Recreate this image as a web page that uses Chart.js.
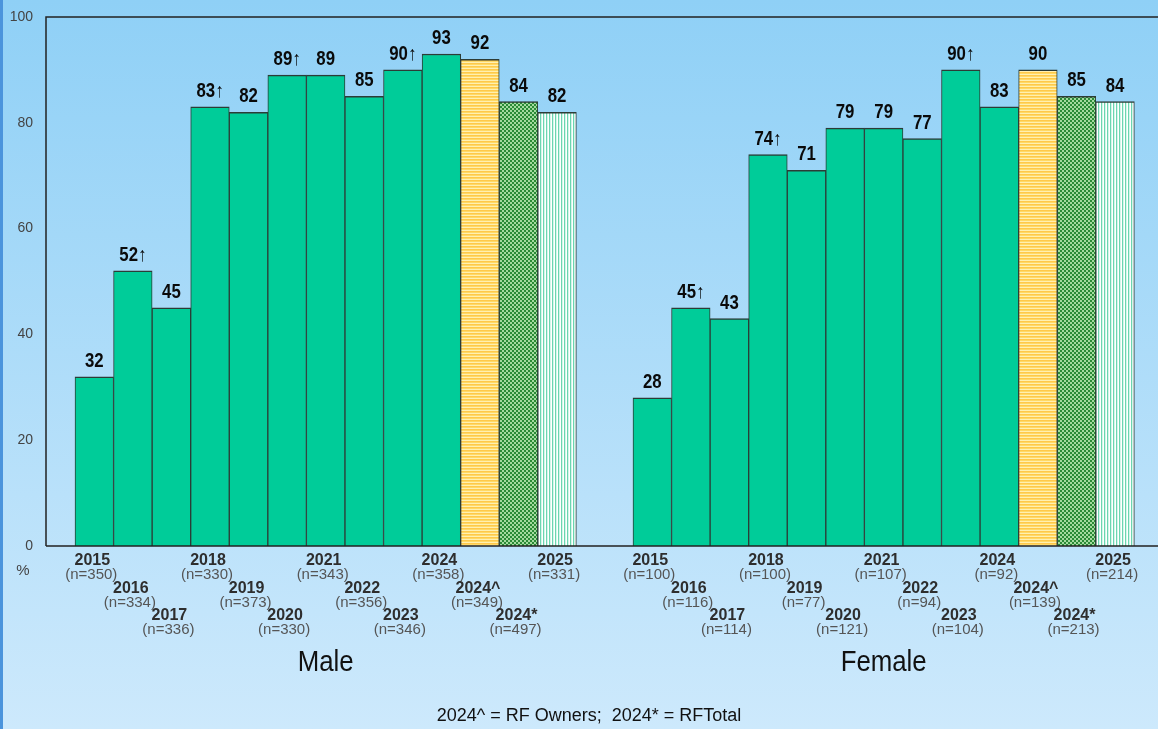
<!DOCTYPE html>
<html>
<head>
<meta charset="utf-8">
<script src="https://cdn.jsdelivr.net/npm/chart.js@4.4.1/dist/chart.umd.min.js"></script>
<style>
  html, body { margin: 0; padding: 0; overflow: hidden; background: #b4def8; }
  #wrap { position: absolute; left: 0; top: 0; width: 1203px; height: 729px; }
</style>
</head>
<body>
<div id="wrap"><canvas id="chart"></canvas></div>
<script>
const years = ['2015', '2016', '2017', '2018', '2019', '2020', '2021', '2022', '2023', '2024', '2024^', '2024*', '2025'];
const maleValues = [32, 52, 45, 83, 82, 89, 89, 85, 90, 93, 92, 84, 82];
const femaleValues = [28, 45, 43, 74, 71, 79, 79, 77, 90, 83, 90, 85, 84];
const maleN = [350, 334, 336, 330, 373, 330, 343, 356, 346, 358, 349, 497, 331];
const femaleN = [100, 116, 114, 100, 77, 121, 107, 94, 104, 92, 139, 213, 214];
// significant increase arrows
const maleUp = [false, true, false, true, false, true, false, false, true, false, false, false, false];
const femaleUp = [false, true, false, true, false, false, false, false, true, false, false, false, false];
const groupNames = ['Male', 'Female'];
const yTicks = [0, 20, 40, 60, 80, 100];
const footnote = '2024^ = RF Owners;  2024* = RFTotal';

// layout (x axis in bar-width units)
const MALE_START = 0.752;
const FEMALE_START = 15.22;
const X_MAX = 30;
const FONT = '"Liberation Sans", Arial, sans-serif';

function makePattern(w, h, draw) {
  const c = document.createElement('canvas');
  c.width = w; c.height = h;
  draw(c.getContext('2d'));
  return document.getElementById('chart').getContext('2d').createPattern(c, 'repeat');
}

const yellowStripes = makePattern(1, 3, (p) => {
  p.fillStyle = '#ffc94a'; p.fillRect(0, 0, 1, 1);
  p.fillStyle = '#ffd966'; p.fillRect(0, 1, 1, 1);
  p.fillStyle = '#fff0b0'; p.fillRect(0, 2, 1, 1);
});
const greenChecker = makePattern(4, 4, (p) => {
  p.fillStyle = '#2a8a36'; p.fillRect(0, 0, 4, 4);
  p.fillStyle = '#a3da9e'; p.fillRect(0, 0, 2, 2); p.fillRect(2, 2, 2, 2);
});
const tealStripes = makePattern(3, 1, (p) => {
  p.fillStyle = '#6cd5b0'; p.fillRect(0, 0, 1, 1);
  p.fillStyle = '#d4f6ea'; p.fillRect(1, 0, 1, 1);
  p.fillStyle = '#ffffff'; p.fillRect(2, 0, 1, 1);
});

function fillFor(year) {
  if (year === '2024^') return yellowStripes;
  if (year === '2024*') return greenChecker;
  if (year === '2025') return tealStripes;
  return '#00cc99';
}

function barSet(label, values, start, n, up) {
  return {
    label,
    data: values.map((v, i) => ({ x: start + i + 0.5, y: v })),
    n, up,
    backgroundColor: years.map(fillFor),
    borderColor: '#2c3c36',
    borderWidth: { top: 1.5, left: 1, right: 1, bottom: 0 },
    borderSkipped: false
  };
}

const decor = {
  id: 'decor',
  beforeDraw(chart) {
    const { ctx, width, height } = chart;
    const g = ctx.createLinearGradient(0, 0, 0, height);
    g.addColorStop(0, '#8fd0f6');
    g.addColorStop(1, '#cde9fc');
    ctx.save();
    ctx.fillStyle = g;
    ctx.fillRect(0, 0, width, height);
    ctx.fillStyle = '#4b94dc';
    ctx.fillRect(0, 0, 3, height);
    ctx.restore();
  },
  afterDatasetsDraw(chart) {
    const { ctx, chartArea: a } = chart;
    ctx.save();
    ctx.strokeStyle = '#222';
    ctx.lineWidth = 1.5;
    ctx.beginPath();
    ctx.moveTo(a.left, a.bottom); ctx.lineTo(a.left, a.top); ctx.lineTo(a.right, a.top);
    ctx.moveTo(a.left, a.bottom); ctx.lineTo(a.right, a.bottom);
    ctx.stroke();

    ctx.textAlign = 'center';
    chart.data.datasets.forEach((ds, di) => {
      const meta = chart.getDatasetMeta(di);
      let left = Infinity, right = -Infinity;
      meta.data.forEach((bar, i) => {
        left = Math.min(left, bar.x - bar.width / 2);
        right = Math.max(right, bar.x + bar.width / 2);
        // value label
        ctx.save();
        ctx.translate(bar.x, bar.y - 10);
        ctx.scale(0.84, 1);
        ctx.font = 'bold 20px ' + FONT;
        ctx.textBaseline = 'alphabetic';
        ctx.fillStyle = '#0a0a0a';
        ctx.fillText(ds.data[i].y + (ds.up[i] ? '\u2191' : ''), 0, 0);
        ctx.restore();
        // year + n labels, staggered in three rows
        const row = i % 3;
        const yy = a.bottom + 15 + row * 27.5;
        ctx.textBaseline = 'middle';
        ctx.font = 'bold 16px ' + FONT;
        ctx.fillStyle = '#2e2e2e';
        ctx.fillText(years[i], bar.x - 2, yy);
        ctx.font = '15px ' + FONT;
        ctx.fillStyle = '#555';
        ctx.fillText('(n=' + ds.n[i] + ')', bar.x - 3, yy + 14);
      });
      // group name
      ctx.save();
      ctx.translate((left + right) / 2, a.bottom + 117);
      ctx.scale(0.86, 1);
      ctx.font = '30px ' + FONT;
      ctx.fillStyle = '#111';
      ctx.textBaseline = 'middle';
      ctx.fillText(groupNames[di], 0, 0);
      ctx.restore();
    });

    ctx.textBaseline = 'middle';
    ctx.font = '15px ' + FONT;
    ctx.fillStyle = '#444';
    ctx.fillText('%', 23, a.bottom + 25);

    ctx.font = '18px ' + FONT;
    ctx.fillStyle = '#111';
    ctx.fillText(footnote, 589, 716);
    ctx.restore();
  }
};

new Chart(document.getElementById('chart'), {
  type: 'bar',
  data: {
    datasets: [
      barSet(groupNames[0], maleValues, MALE_START, maleN, maleUp),
      barSet(groupNames[1], femaleValues, FEMALE_START, femaleN, femaleUp)
    ]
  },
  options: {
    responsive: true,
    maintainAspectRatio: false,
    animation: false,
    layout: { padding: { left: 0, right: 0, top: 17, bottom: 183 } },
    datasets: { bar: { barPercentage: 1, categoryPercentage: 1, grouped: false } },
    plugins: { legend: { display: false }, tooltip: { enabled: false } },
    scales: {
      x: {
        type: 'linear', min: 0, max: X_MAX, display: false, offset: false,
        ticks: { stepSize: 1 }
      },
      y: {
        min: yTicks[0], max: yTicks[yTicks.length - 1],
        afterBuildTicks: (s) => { s.ticks = yTicks.map((v) => ({ value: v })); },
        ticks: { color: '#444', font: { size: 14, family: FONT }, padding: 13 },
        grid: { display: false, drawTicks: false },
        border: { display: false },
        afterFit: (s) => { s.width = 46; s.paddingTop = 0; s.paddingBottom = 0; }
      }
    }
  },
  plugins: [decor]
});
</script>
</body>
</html>
